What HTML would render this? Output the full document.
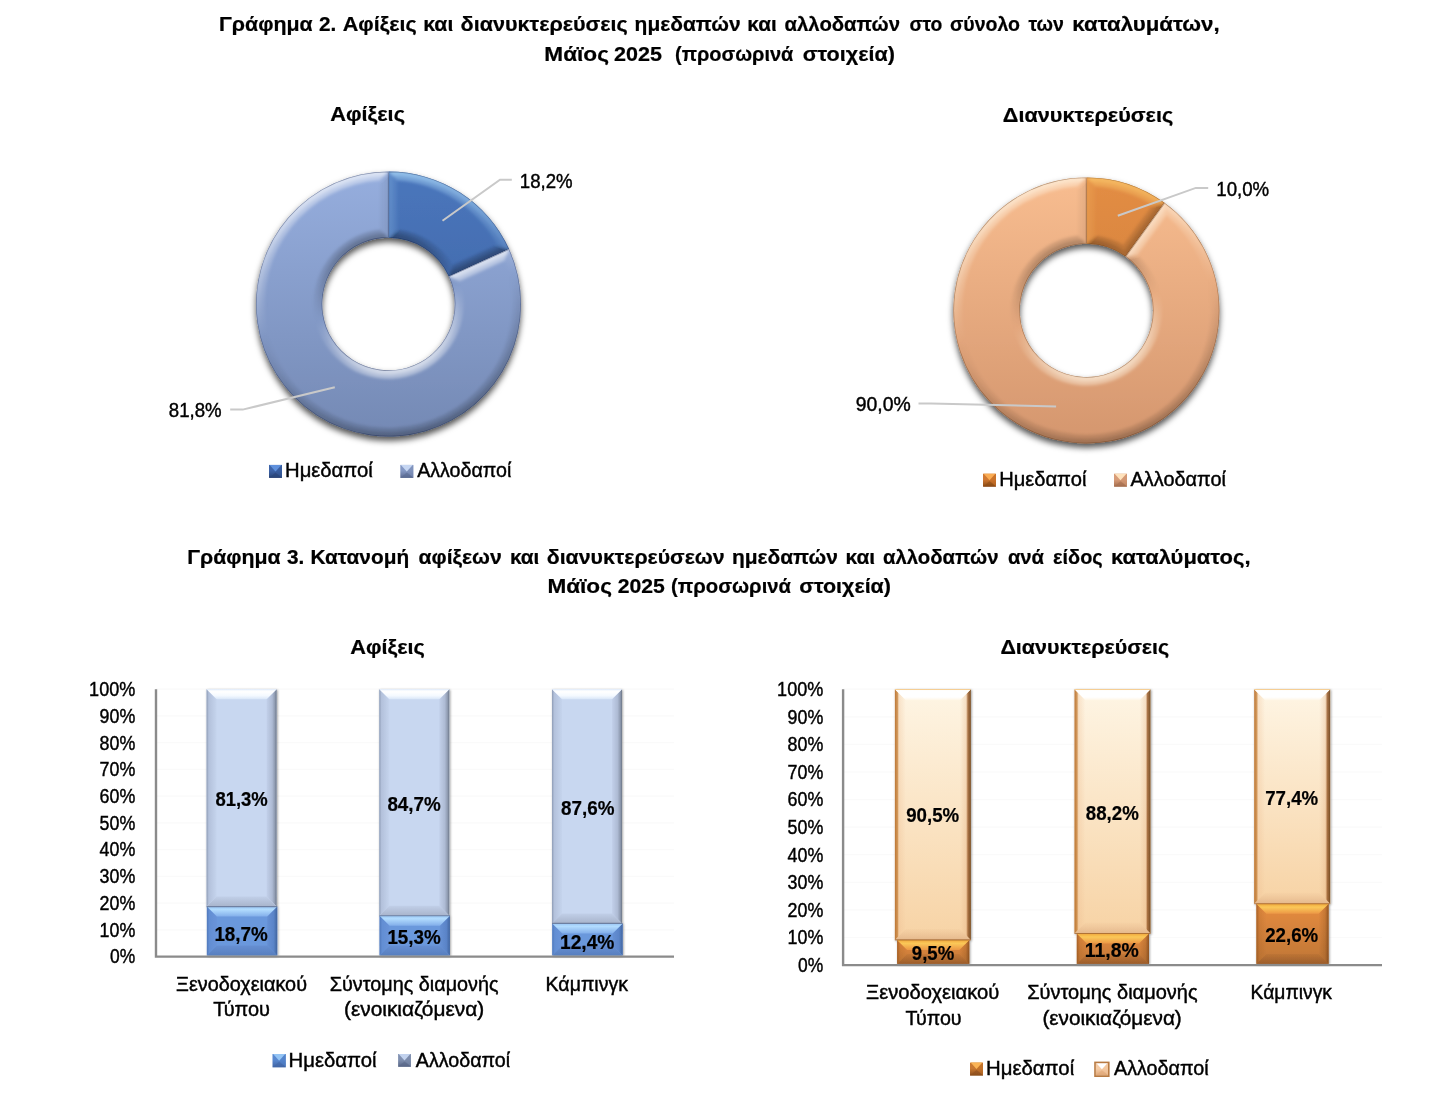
<!DOCTYPE html>
<html lang="el"><head><meta charset="utf-8"><title>Γραφήματα 2 και 3</title>
<style>
html,body{margin:0;padding:0;background:#fff;}
svg{display:block;}
text{font-family:"Liberation Sans", sans-serif;fill:#000;stroke:#000;stroke-width:.42px;}
text.b{stroke-width:.22px;}
</style></head><body>
<svg width="1446" height="1094" viewBox="0 0 1446 1094">
<defs>
<filter id="bl" x="-10%" y="-10%" width="120%" height="120%"><feGaussianBlur stdDeviation="1.5"/></filter>
<filter id="dsh" x="-10%" y="-10%" width="120%" height="125%"><feDropShadow dx="0" dy="4" stdDeviation="3.2" flood-color="#000" flood-opacity=".68"/></filter>
<filter id="msh" x="-20%" y="-20%" width="140%" height="140%"><feGaussianBlur stdDeviation="0.45"/></filter>
<filter id="bsh" x="-20%" y="-5%" width="140%" height="110%"><feDropShadow dx="0.8" dy="0.8" stdDeviation="1.1" flood-color="#000" flood-opacity=".38"/></filter>
<linearGradient id="dbd" gradientUnits="userSpaceOnUse" x1="0" y1="171.5" x2="0" y2="436.5"><stop offset="0" stop-color="#4A76BC"/><stop offset="1" stop-color="#3A5F9E"/></linearGradient>
<linearGradient id="dbl" gradientUnits="userSpaceOnUse" x1="0" y1="171.5" x2="0" y2="436.5"><stop offset="0" stop-color="#96AEDE"/><stop offset="1" stop-color="#7489B4"/></linearGradient>
<linearGradient id="db0o" gradientUnits="userSpaceOnUse" x1="356.7" y1="175.5" x2="420.3" y2="432.5"><stop offset="0" stop-color="#B4E2FF" stop-opacity="0.440"/><stop offset=".5" stop-color="#B4E2FF" stop-opacity="0"/><stop offset=".5" stop-color="#000" stop-opacity="0"/><stop offset="1" stop-color="#000" stop-opacity="0.176"/></linearGradient>
<linearGradient id="db0i" gradientUnits="userSpaceOnUse" x1="404.4" y1="368.3" x2="372.6" y2="239.7"><stop offset="0" stop-color="#B4E2FF" stop-opacity="0.440"/><stop offset=".5" stop-color="#B4E2FF" stop-opacity="0"/><stop offset=".5" stop-color="#000" stop-opacity="0"/><stop offset="1" stop-color="#000" stop-opacity="0.176"/></linearGradient>
<clipPath id="dbc0"><path d="M388.50,171.50A132.5,132.5 0 0 1 509.09,249.10L448.84,276.53A66.3,66.3 0 0 0 388.50,237.70Z"/></clipPath>
<linearGradient id="db1o" gradientUnits="userSpaceOnUse" x1="356.7" y1="175.5" x2="420.3" y2="432.5"><stop offset="0" stop-color="#fff" stop-opacity="0.413"/><stop offset=".5" stop-color="#fff" stop-opacity="0"/><stop offset=".5" stop-color="#000" stop-opacity="0"/><stop offset="1" stop-color="#000" stop-opacity="0.154"/></linearGradient>
<linearGradient id="db1i" gradientUnits="userSpaceOnUse" x1="404.4" y1="368.3" x2="372.6" y2="239.7"><stop offset="0" stop-color="#fff" stop-opacity="0.413"/><stop offset=".5" stop-color="#fff" stop-opacity="0"/><stop offset=".5" stop-color="#000" stop-opacity="0"/><stop offset="1" stop-color="#000" stop-opacity="0.154"/></linearGradient>
<clipPath id="dbc1"><path d="M509.09,249.10A132.5,132.5 0 1 1 388.50,171.50L388.50,237.70A66.3,66.3 0 1 0 448.84,276.53Z"/></clipPath>
<linearGradient id="mk1" x1="0" y1="0" x2="0" y2="1"><stop offset="0" stop-color="#3C64A8"/><stop offset=".45" stop-color="#3C64A8"/><stop offset="1" stop-color="#2A4476"/></linearGradient>
<linearGradient id="mk2" x1="0" y1="0" x2="0" y2="1"><stop offset="0" stop-color="#8498C4"/><stop offset=".45" stop-color="#8498C4"/><stop offset="1" stop-color="#5A6A92"/></linearGradient>
<linearGradient id="dod" gradientUnits="userSpaceOnUse" x1="0" y1="177.39999999999998" x2="0" y2="443.4"><stop offset="0" stop-color="#E38D44"/><stop offset="1" stop-color="#C67838"/></linearGradient>
<linearGradient id="dol" gradientUnits="userSpaceOnUse" x1="0" y1="177.39999999999998" x2="0" y2="443.4"><stop offset="0" stop-color="#F8BD90"/><stop offset="1" stop-color="#D4966E"/></linearGradient>
<linearGradient id="do0o" gradientUnits="userSpaceOnUse" x1="1054.5" y1="181.4" x2="1118.3" y2="439.4"><stop offset="0" stop-color="#FFD070" stop-opacity="0.413"/><stop offset=".5" stop-color="#FFD070" stop-opacity="0"/><stop offset=".5" stop-color="#000" stop-opacity="0"/><stop offset="1" stop-color="#000" stop-opacity="0.165"/></linearGradient>
<linearGradient id="do0i" gradientUnits="userSpaceOnUse" x1="1102.4" y1="375.0" x2="1070.4" y2="245.8"><stop offset="0" stop-color="#FFD070" stop-opacity="0.413"/><stop offset=".5" stop-color="#FFD070" stop-opacity="0"/><stop offset=".5" stop-color="#000" stop-opacity="0"/><stop offset="1" stop-color="#000" stop-opacity="0.165"/></linearGradient>
<clipPath id="doc0"><path d="M1086.40,177.40A133,133 0 0 1 1164.58,202.80L1125.55,256.52A66.6,66.6 0 0 0 1086.40,243.80Z"/></clipPath>
<linearGradient id="do1o" gradientUnits="userSpaceOnUse" x1="1054.5" y1="181.4" x2="1118.3" y2="439.4"><stop offset="0" stop-color="#FFF8E8" stop-opacity="0.413"/><stop offset=".5" stop-color="#FFF8E8" stop-opacity="0"/><stop offset=".5" stop-color="#000" stop-opacity="0"/><stop offset="1" stop-color="#000" stop-opacity="0.132"/></linearGradient>
<linearGradient id="do1i" gradientUnits="userSpaceOnUse" x1="1102.4" y1="375.0" x2="1070.4" y2="245.8"><stop offset="0" stop-color="#FFF8E8" stop-opacity="0.413"/><stop offset=".5" stop-color="#FFF8E8" stop-opacity="0"/><stop offset=".5" stop-color="#000" stop-opacity="0"/><stop offset="1" stop-color="#000" stop-opacity="0.132"/></linearGradient>
<clipPath id="doc1"><path d="M1164.58,202.80A133,133 0 1 1 1086.40,177.40L1086.40,243.80A66.6,66.6 0 1 0 1125.55,256.52Z"/></clipPath>
<linearGradient id="mk3" x1="0" y1="0" x2="0" y2="1"><stop offset="0" stop-color="#D07830"/><stop offset=".45" stop-color="#D07830"/><stop offset="1" stop-color="#8A4A16"/></linearGradient>
<linearGradient id="mk4" x1="0" y1="0" x2="0" y2="1"><stop offset="0" stop-color="#D89C78"/><stop offset=".45" stop-color="#D89C78"/><stop offset="1" stop-color="#A66E4E"/></linearGradient>
<linearGradient id="lbM" x1="0" y1="0" x2="0" y2="1"><stop offset="0" stop-color="#C8D7F0"/><stop offset="1" stop-color="#C8D7F0"/></linearGradient>
<linearGradient id="lbT" x1="0" y1="0" x2="0" y2="1"><stop offset="0" stop-color="#EAF2FC"/><stop offset="0.25" stop-color="#FFFFFF"/><stop offset="0.65" stop-color="#F4F9FF"/><stop offset="1" stop-color="#D9E6F8"/></linearGradient>
<linearGradient id="lbL" x1="0" y1="0" x2="1" y2="0"><stop offset="0" stop-color="#8E9CB5"/><stop offset="0.22" stop-color="#B3C1DB"/><stop offset="1" stop-color="#C5D4ED"/></linearGradient>
<linearGradient id="lbR" x1="0" y1="0" x2="1" y2="0"><stop offset="0" stop-color="#C2D0EA"/><stop offset="0.55" stop-color="#AEBBD4"/><stop offset="0.82" stop-color="#8F9BB1"/><stop offset="1" stop-color="#6C7687"/></linearGradient>
<linearGradient id="lbB" x1="0" y1="0" x2="0" y2="1"><stop offset="0" stop-color="#C1CFE8"/><stop offset="1" stop-color="#A8B4CB"/></linearGradient>
<linearGradient id="db2M" x1="0" y1="0" x2="0" y2="1"><stop offset="0" stop-color="#6B98DC"/><stop offset="1" stop-color="#6B98DC"/></linearGradient>
<linearGradient id="db2T" x1="0" y1="0" x2="0" y2="1"><stop offset="0" stop-color="#9AC6F5"/><stop offset="0.3" stop-color="#B2DCFE"/><stop offset="1" stop-color="#82AEEA"/></linearGradient>
<linearGradient id="db2L" x1="0" y1="0" x2="1" y2="0"><stop offset="0" stop-color="#5079BC"/><stop offset="0.25" stop-color="#638ED3"/><stop offset="1" stop-color="#6994D9"/></linearGradient>
<linearGradient id="db2R" x1="0" y1="0" x2="1" y2="0"><stop offset="0" stop-color="#6690D4"/><stop offset="0.65" stop-color="#5A84C8"/><stop offset="1" stop-color="#42659F"/></linearGradient>
<linearGradient id="db2B" x1="0" y1="0" x2="0" y2="1"><stop offset="0" stop-color="#668FD2"/><stop offset="1" stop-color="#587FBF"/></linearGradient>
<linearGradient id="mk5" x1="0" y1="0" x2="0" y2="1"><stop offset="0" stop-color="#5888D0"/><stop offset=".45" stop-color="#5888D0"/><stop offset="1" stop-color="#4266A6"/></linearGradient>
<linearGradient id="mk6" x1="0" y1="0" x2="0" y2="1"><stop offset="0" stop-color="#8090B0"/><stop offset=".45" stop-color="#8090B0"/><stop offset="1" stop-color="#586686"/></linearGradient>
<linearGradient id="loM" x1="0" y1="0" x2="0" y2="1"><stop offset="0" stop-color="#FEF5E4"/><stop offset="1" stop-color="#F7D3A5"/></linearGradient>
<linearGradient id="loT" x1="0" y1="0" x2="0" y2="1"><stop offset="0" stop-color="#F0B050"/><stop offset="0.12" stop-color="#FFFFFF"/><stop offset="0.72" stop-color="#FFFFFF"/><stop offset="1" stop-color="#FFF6E6"/></linearGradient>
<linearGradient id="loL" x1="0" y1="0" x2="1" y2="0"><stop offset="0" stop-color="#B8702E" stop-opacity="0.95"/><stop offset="0.24" stop-color="#C8843E" stop-opacity="0.8"/><stop offset="0.38" stop-color="#EBB88C" stop-opacity="0.3"/><stop offset="1" stop-color="#EBB88C" stop-opacity="0"/></linearGradient>
<linearGradient id="loR" x1="0" y1="0" x2="1" y2="0"><stop offset="0" stop-color="#E0A878" stop-opacity="0"/><stop offset="0.55" stop-color="#E0A878" stop-opacity="0.28"/><stop offset="0.72" stop-color="#9C6030" stop-opacity="0.85"/><stop offset="1" stop-color="#70451C" stop-opacity="0.95"/></linearGradient>
<linearGradient id="loB" x1="0" y1="0" x2="0" y2="1"><stop offset="0" stop-color="#D8A078" stop-opacity="0.05"/><stop offset="1" stop-color="#C89068" stop-opacity="0.4"/></linearGradient>
<linearGradient id="dorM" x1="0" y1="0" x2="0" y2="1"><stop offset="0" stop-color="#E68C40"/><stop offset="1" stop-color="#BF7636"/></linearGradient>
<linearGradient id="dorT" x1="0" y1="0" x2="0" y2="1"><stop offset="0" stop-color="#F0A83C"/><stop offset="0.35" stop-color="#FBC858"/><stop offset="1" stop-color="#EC9846"/></linearGradient>
<linearGradient id="dorL" x1="0" y1="0" x2="1" y2="0"><stop offset="0" stop-color="#96551E" stop-opacity="0.75"/><stop offset="0.3" stop-color="#96551E" stop-opacity="0.2"/><stop offset="1" stop-color="#96551E" stop-opacity="0"/></linearGradient>
<linearGradient id="dorR" x1="0" y1="0" x2="1" y2="0"><stop offset="0" stop-color="#78461A" stop-opacity="0"/><stop offset="0.65" stop-color="#78461A" stop-opacity="0.25"/><stop offset="1" stop-color="#6E3C14" stop-opacity="0.7"/></linearGradient>
<linearGradient id="dorB" x1="0" y1="0" x2="0" y2="1"><stop offset="0" stop-color="#64371A" stop-opacity="0.08"/><stop offset="1" stop-color="#64371A" stop-opacity="0.38"/></linearGradient>
<linearGradient id="mk7" x1="0" y1="0" x2="0" y2="1"><stop offset="0" stop-color="#C87830"/><stop offset=".45" stop-color="#C87830"/><stop offset="1" stop-color="#8C4E1E"/></linearGradient>
<linearGradient id="mk8" x1="0" y1="0" x2="0" y2="1"><stop offset="0" stop-color="#F6CCA6"/><stop offset=".45" stop-color="#F6CCA6"/><stop offset="1" stop-color="#E0A878"/></linearGradient>
</defs>
<rect width="1446" height="1094" fill="#fff"/>
<text y="31.1" font-size="20.2" font-weight="bold" class="b"><tspan x="219.0" textLength="93.7" lengthAdjust="spacingAndGlyphs">Γράφημα</tspan> <tspan x="319.0" textLength="17.3" lengthAdjust="spacingAndGlyphs">2.</tspan> <tspan x="342.7" textLength="74.0" lengthAdjust="spacingAndGlyphs">Αφίξεις</tspan> <tspan x="423.2" textLength="30.1" lengthAdjust="spacingAndGlyphs">και</tspan> <tspan x="460.6" textLength="167.2" lengthAdjust="spacingAndGlyphs">διανυκτερεύσεις</tspan> <tspan x="634.6" textLength="106.0" lengthAdjust="spacingAndGlyphs">ημεδαπών</tspan> <tspan x="747.3" textLength="29.4" lengthAdjust="spacingAndGlyphs">και</tspan> <tspan x="784.6" textLength="115.4" lengthAdjust="spacingAndGlyphs">αλλοδαπών</tspan> <tspan x="909.4" textLength="33.0" lengthAdjust="spacingAndGlyphs">στο</tspan> <tspan x="950.0" textLength="70.0" lengthAdjust="spacingAndGlyphs">σύνολο</tspan> <tspan x="1028.4" textLength="35.5" lengthAdjust="spacingAndGlyphs">των</tspan> <tspan x="1072.3" textLength="147.3" lengthAdjust="spacingAndGlyphs">καταλυμάτων,</tspan></text>
<text y="60.5" font-size="20.2" font-weight="bold" class="b"><tspan x="544.3" textLength="64.6" lengthAdjust="spacingAndGlyphs">Μάϊος</tspan> <tspan x="614.1" textLength="47.9" lengthAdjust="spacingAndGlyphs">2025</tspan> <tspan x="675.0" textLength="118.4" lengthAdjust="spacingAndGlyphs">(προσωρινά</tspan> <tspan x="802.8" textLength="92.1" lengthAdjust="spacingAndGlyphs">στοιχεία)</tspan></text>
<text y="564.1" font-size="20.2" font-weight="bold" class="b"><tspan x="187.2" textLength="93.5" lengthAdjust="spacingAndGlyphs">Γράφημα</tspan> <tspan x="287.0" textLength="17.3" lengthAdjust="spacingAndGlyphs">3.</tspan> <tspan x="310.5" textLength="98.6" lengthAdjust="spacingAndGlyphs">Κατανομή</tspan> <tspan x="418.5" textLength="83.2" lengthAdjust="spacingAndGlyphs">αφίξεων</tspan> <tspan x="509.9" textLength="29.5" lengthAdjust="spacingAndGlyphs">και</tspan> <tspan x="546.8" textLength="177.8" lengthAdjust="spacingAndGlyphs">διανυκτερεύσεων</tspan> <tspan x="731.9" textLength="106.0" lengthAdjust="spacingAndGlyphs">ημεδαπών</tspan> <tspan x="845.5" textLength="29.7" lengthAdjust="spacingAndGlyphs">και</tspan> <tspan x="883.0" textLength="115.6" lengthAdjust="spacingAndGlyphs">αλλοδαπών</tspan> <tspan x="1007.9" textLength="36.2" lengthAdjust="spacingAndGlyphs">ανά</tspan> <tspan x="1053.1" textLength="49.6" lengthAdjust="spacingAndGlyphs">είδος</tspan> <tspan x="1111.0" textLength="139.5" lengthAdjust="spacingAndGlyphs">καταλύματος,</tspan></text>
<text y="593.1" font-size="20.2" font-weight="bold" class="b"><tspan x="547.4" textLength="64.5" lengthAdjust="spacingAndGlyphs">Μάϊος</tspan> <tspan x="617.7" textLength="47.1" lengthAdjust="spacingAndGlyphs">2025</tspan> <tspan x="671.0" textLength="120.0" lengthAdjust="spacingAndGlyphs">(προσωρινά</tspan> <tspan x="799.3" textLength="91.7" lengthAdjust="spacingAndGlyphs">στοιχεία)</tspan></text>
<text x="330.2" y="121.1" font-size="20.2" textLength="74.8" lengthAdjust="spacingAndGlyphs" font-weight="bold" class="b">Αφίξεις</text>
<g filter="url(#dsh)">
<path d="M388.50,171.50A132.5,132.5 0 0 1 509.09,249.10L448.84,276.53A66.3,66.3 0 0 0 388.50,237.70Z" fill="url(#dbd)"/>
<g clip-path="url(#dbc0)"><g filter="url(#bl)">
<path d="M388.50,165.50A138.5,138.5 0 0 1 514.55,246.61L509.09,249.10L497.57,245.00A124.0,124.0 0 0 0 397.00,180.29L388.50,171.50Z" fill="url(#db0o)"/>
<path d="M388.50,243.70A60.3,60.3 0 0 1 443.38,279.01L448.84,276.53L452.61,265.47A74.8,74.8 0 0 0 397.00,229.68L388.50,237.70Z" fill="url(#db0i)"/>
<polygon points="381.25,165.69 388.50,165.50 388.50,171.50 397.00,180.29 397.00,229.68 388.50,237.70 388.50,243.70 382.20,244.03" fill="#B4E2FF" fill-opacity="0.106"/>
<polygon points="517.38,253.28 514.55,246.61 509.09,249.10 497.57,245.00 452.61,265.47 448.84,276.53 443.38,279.01 445.69,284.89" fill="#000" fill-opacity="0.173"/>
<path d="M388.50,165.50A138.5,138.5 0 0 1 514.55,246.61L509.09,249.10L503.40,247.02A128.25,128.25 0 0 0 392.75,175.82L388.50,171.50Z" fill="url(#db0o)"/>
<path d="M388.50,243.70A60.3,60.3 0 0 1 443.38,279.01L448.84,276.53L450.83,270.95A70.55,70.55 0 0 0 392.75,233.58L388.50,237.70Z" fill="url(#db0i)"/>
<polygon points="381.25,165.69 388.50,165.50 388.50,171.50 392.75,175.82 392.75,233.58 388.50,237.70 388.50,243.70 382.20,244.03" fill="#B4E2FF" fill-opacity="0.106"/>
<polygon points="517.38,253.28 514.55,246.61 509.09,249.10 503.40,247.02 450.83,270.95 448.84,276.53 443.38,279.01 445.69,284.89" fill="#000" fill-opacity="0.173"/>
</g>
<path d="M388.50,171.50A132.5,132.5 0 0 1 509.09,249.10L448.84,276.53A66.3,66.3 0 0 0 388.50,237.70Z" fill="none" stroke="#16244A" stroke-opacity=".4" stroke-width="1.3"/>
</g>
<path d="M509.09,249.10A132.5,132.5 0 1 1 388.50,171.50L388.50,237.70A66.3,66.3 0 1 0 448.84,276.53Z" fill="url(#dbl)"/>
<g clip-path="url(#dbc1)"><g filter="url(#bl)">
<path d="M514.55,246.61A138.5,138.5 0 1 1 388.50,165.50L388.50,171.50L380.00,180.29A124.0,124.0 0 1 0 504.61,260.47L509.09,249.10Z" fill="url(#db1o)"/>
<path d="M443.38,279.01A60.3,60.3 0 1 1 388.50,243.70L388.50,237.70L380.00,229.68A74.8,74.8 0 1 0 459.66,280.94L448.84,276.53Z" fill="url(#db1i)"/>
<polygon points="511.37,240.09 514.55,246.61 509.09,249.10 504.61,260.47 459.66,280.94 448.84,276.53 443.38,279.01 440.47,273.41" fill="#fff" fill-opacity="0.405"/>
<polygon points="395.75,165.69 388.50,165.50 388.50,171.50 380.00,180.29 380.00,229.68 388.50,237.70 388.50,243.70 394.80,244.03" fill="#000" fill-opacity="0.037"/>
<path d="M514.55,246.61A138.5,138.5 0 1 1 388.50,165.50L388.50,171.50L384.25,175.82A128.25,128.25 0 1 0 506.92,254.75L509.09,249.10Z" fill="url(#db1o)"/>
<path d="M443.38,279.01A60.3,60.3 0 1 1 388.50,243.70L388.50,237.70L384.25,233.58A70.55,70.55 0 1 0 454.35,278.69L448.84,276.53Z" fill="url(#db1i)"/>
<polygon points="511.37,240.09 514.55,246.61 509.09,249.10 506.92,254.75 454.35,278.69 448.84,276.53 443.38,279.01 440.47,273.41" fill="#fff" fill-opacity="0.405"/>
<polygon points="395.75,165.69 388.50,165.50 388.50,171.50 384.25,175.82 384.25,233.58 388.50,237.70 388.50,243.70 394.80,244.03" fill="#000" fill-opacity="0.037"/>
</g>
<path d="M509.09,249.10A132.5,132.5 0 1 1 388.50,171.50L388.50,237.70A66.3,66.3 0 1 0 448.84,276.53Z" fill="none" stroke="#16244A" stroke-opacity=".4" stroke-width="1.3"/>
</g>
</g>
<polyline points="442.5,220.8 500,179.8 511.8,179.8" fill="none" stroke="#C9C9C9" stroke-width="2"/>
<polyline points="334.8,387.2 242.7,409.6 230.2,409.6" fill="none" stroke="#C9C9C9" stroke-width="2"/>
<text x="519.8" y="188.1" font-size="20.3" textLength="52.8" lengthAdjust="spacingAndGlyphs">18,2%</text>
<text x="168.8" y="416.5" font-size="20.3" textLength="52.8" lengthAdjust="spacingAndGlyphs">81,8%</text>
<g filter="url(#msh)">
<rect x="269" y="464.9" width="13" height="13" fill="url(#mk1)"/>
<polygon points="282,464.9 282,477.9 275.5,471.4" fill="#36589A" fill-opacity=".6"/>
<polygon points="269,477.9 282,477.9 275.5,472.4" fill="#2A4476" fill-opacity=".55"/>
<polygon points="269.6,464.9 281.4,464.9 275.5,471.4" fill="#5E90DC"/>
</g>
<text x="285.0" y="477.3" font-size="19.7" textLength="87.8" lengthAdjust="spacingAndGlyphs">Ημεδαποί</text>
<g filter="url(#msh)">
<rect x="400.3" y="464.9" width="13" height="13" fill="url(#mk2)"/>
<polygon points="413.3,464.9 413.3,477.9 406.8,471.4" fill="#7C8EB8" fill-opacity=".6"/>
<polygon points="400.3,477.9 413.3,477.9 406.8,472.4" fill="#5A6A92" fill-opacity=".55"/>
<polygon points="400.90000000000003,464.9 412.7,464.9 406.8,471.4" fill="#C6D6F2"/>
</g>
<text x="417.2" y="477.3" font-size="19.7" textLength="94.2" lengthAdjust="spacingAndGlyphs">Αλλοδαποί</text>
<text x="1002.8" y="121.5" font-size="20.2" textLength="170.4" lengthAdjust="spacingAndGlyphs" font-weight="bold" class="b">Διανυκτερεύσεις</text>
<g filter="url(#dsh)">
<path d="M1086.40,177.40A133,133 0 0 1 1164.58,202.80L1125.55,256.52A66.6,66.6 0 0 0 1086.40,243.80Z" fill="url(#dod)"/>
<g clip-path="url(#doc0)"><g filter="url(#bl)">
<path d="M1086.40,171.40A139,139 0 0 1 1168.10,197.95L1164.58,202.80L1152.53,204.92A124.5,124.5 0 0 0 1094.90,186.19L1086.40,177.40Z" fill="url(#do0o)"/>
<path d="M1086.40,249.80A60.599999999999994,60.599999999999994 0 0 1 1122.02,261.37L1125.55,256.52L1123.38,245.04A75.1,75.1 0 0 0 1094.90,235.78L1086.40,243.80Z" fill="url(#do0i)"/>
<polygon points="1079.13,171.59 1086.40,171.40 1086.40,177.40 1094.90,186.19 1094.90,235.78 1086.40,243.80 1086.40,249.80 1080.07,250.13" fill="#FFD070" fill-opacity="0.099"/>
<polygon points="1173.88,202.38 1168.10,197.95 1164.58,202.80 1152.53,204.92 1123.38,245.04 1125.55,256.52 1122.02,261.37 1126.95,265.37" fill="#000" fill-opacity="0.126"/>
<path d="M1086.40,171.40A139,139 0 0 1 1168.10,197.95L1164.58,202.80L1158.60,203.80A128.75,128.75 0 0 0 1090.65,181.72L1086.40,177.40Z" fill="url(#do0o)"/>
<path d="M1086.40,249.80A60.599999999999994,60.599999999999994 0 0 1 1122.02,261.37L1125.55,256.52L1124.53,250.69A70.85,70.85 0 0 0 1090.65,239.68L1086.40,243.80Z" fill="url(#do0i)"/>
<polygon points="1079.13,171.59 1086.40,171.40 1086.40,177.40 1090.65,181.72 1090.65,239.68 1086.40,243.80 1086.40,249.80 1080.07,250.13" fill="#FFD070" fill-opacity="0.099"/>
<polygon points="1173.88,202.38 1168.10,197.95 1164.58,202.80 1158.60,203.80 1124.53,250.69 1125.55,256.52 1122.02,261.37 1126.95,265.37" fill="#000" fill-opacity="0.126"/>
</g>
<path d="M1086.40,177.40A133,133 0 0 1 1164.58,202.80L1125.55,256.52A66.6,66.6 0 0 0 1086.40,243.80Z" fill="none" stroke="#5A3010" stroke-opacity=".4" stroke-width="1.3"/>
</g>
<path d="M1164.58,202.80A133,133 0 1 1 1086.40,177.40L1086.40,243.80A66.6,66.6 0 1 0 1125.55,256.52Z" fill="url(#dol)"/>
<g clip-path="url(#doc1)"><g filter="url(#bl)">
<path d="M1168.10,197.95A139,139 0 1 1 1086.40,171.40L1086.40,177.40L1077.90,186.19A124.5,124.5 0 1 0 1166.29,214.91L1164.58,202.80Z" fill="url(#do1o)"/>
<path d="M1122.02,261.37A60.599999999999994,60.599999999999994 0 1 1 1086.40,249.80L1086.40,243.80L1077.90,235.78A75.1,75.1 0 1 0 1137.14,255.03L1125.55,256.52Z" fill="url(#do1i)"/>
<polygon points="1162.10,193.82 1168.10,197.95 1164.58,202.80 1166.29,214.91 1137.14,255.03 1125.55,256.52 1122.02,261.37 1116.70,257.92" fill="#FFF8E8" fill-opacity="0.315"/>
<polygon points="1093.67,171.59 1086.40,171.40 1086.40,177.40 1077.90,186.19 1077.90,235.78 1086.40,243.80 1086.40,249.80 1092.73,250.13" fill="#000" fill-opacity="0.032"/>
<path d="M1168.10,197.95A139,139 0 1 1 1086.40,171.40L1086.40,177.40L1082.15,181.72A128.75,128.75 0 1 0 1165.47,208.79L1164.58,202.80Z" fill="url(#do1o)"/>
<path d="M1122.02,261.37A60.599999999999994,60.599999999999994 0 1 1 1086.40,249.80L1086.40,243.80L1082.15,239.68A70.85,70.85 0 1 0 1131.41,255.68L1125.55,256.52Z" fill="url(#do1i)"/>
<polygon points="1162.10,193.82 1168.10,197.95 1164.58,202.80 1165.47,208.79 1131.41,255.68 1125.55,256.52 1122.02,261.37 1116.70,257.92" fill="#FFF8E8" fill-opacity="0.315"/>
<polygon points="1093.67,171.59 1086.40,171.40 1086.40,177.40 1082.15,181.72 1082.15,239.68 1086.40,243.80 1086.40,249.80 1092.73,250.13" fill="#000" fill-opacity="0.032"/>
</g>
<path d="M1164.58,202.80A133,133 0 1 1 1086.40,177.40L1086.40,243.80A66.6,66.6 0 1 0 1125.55,256.52Z" fill="none" stroke="#5A3010" stroke-opacity=".4" stroke-width="1.3"/>
</g>
</g>
<polyline points="1117.8,215.7 1195.8,187.9 1208.2,187.9" fill="none" stroke="#C9C9C9" stroke-width="2"/>
<polyline points="1056.1,406.4 931,403.6 918.5,403.6" fill="none" stroke="#C9C9C9" stroke-width="2"/>
<text x="1216.3" y="196.0" font-size="20.3" textLength="52.9" lengthAdjust="spacingAndGlyphs">10,0%</text>
<text x="855.8" y="410.7" font-size="20.3" textLength="55.0" lengthAdjust="spacingAndGlyphs">90,0%</text>
<g filter="url(#msh)">
<rect x="983" y="473.7" width="13" height="13" fill="url(#mk3)"/>
<polygon points="996,473.7 996,486.7 989.5,480.2" fill="#C87028" fill-opacity=".6"/>
<polygon points="983,486.7 996,486.7 989.5,481.2" fill="#8A4A16" fill-opacity=".55"/>
<polygon points="983.6,473.7 995.4,473.7 989.5,480.2" fill="#FAAC52"/>
</g>
<text x="999.2" y="485.8" font-size="19.7" textLength="87.2" lengthAdjust="spacingAndGlyphs">Ημεδαποί</text>
<g filter="url(#msh)">
<rect x="1114" y="473.7" width="13" height="13" fill="url(#mk4)"/>
<polygon points="1127,473.7 1127,486.7 1120.5,480.2" fill="#D09470" fill-opacity=".6"/>
<polygon points="1114,486.7 1127,486.7 1120.5,481.2" fill="#A66E4E" fill-opacity=".55"/>
<polygon points="1114.6,473.7 1126.4,473.7 1120.5,480.2" fill="#FFE2BC"/>
</g>
<text x="1130.6" y="485.8" font-size="19.7" textLength="95.4" lengthAdjust="spacingAndGlyphs">Αλλοδαποί</text>
<text x="350.2" y="654.2" font-size="20.2" textLength="74.6" lengthAdjust="spacingAndGlyphs" font-weight="bold" class="b">Αφίξεις</text>
<line x1="156" y1="929.9" x2="674" y2="929.9" stroke="#FAFAFA" stroke-width="1.2"/>
<line x1="156" y1="903.1" x2="674" y2="903.1" stroke="#FAFAFA" stroke-width="1.2"/>
<line x1="156" y1="876.4" x2="674" y2="876.4" stroke="#FAFAFA" stroke-width="1.2"/>
<line x1="156" y1="849.6" x2="674" y2="849.6" stroke="#FAFAFA" stroke-width="1.2"/>
<line x1="156" y1="822.9" x2="674" y2="822.9" stroke="#FAFAFA" stroke-width="1.2"/>
<line x1="156" y1="796.2" x2="674" y2="796.2" stroke="#FAFAFA" stroke-width="1.2"/>
<line x1="156" y1="769.4" x2="674" y2="769.4" stroke="#FAFAFA" stroke-width="1.2"/>
<line x1="156" y1="742.7" x2="674" y2="742.7" stroke="#FAFAFA" stroke-width="1.2"/>
<line x1="156" y1="715.9" x2="674" y2="715.9" stroke="#FAFAFA" stroke-width="1.2"/>
<line x1="156" y1="689.2" x2="674" y2="689.2" stroke="#FAFAFA" stroke-width="1.2"/>
<text x="135.3" y="963.4" font-size="20.3" textLength="25.2" lengthAdjust="spacingAndGlyphs" text-anchor="end">0%</text>
<text x="135.3" y="936.7" font-size="20.3" textLength="35.7" lengthAdjust="spacingAndGlyphs" text-anchor="end">10%</text>
<text x="135.3" y="909.9" font-size="20.3" textLength="35.7" lengthAdjust="spacingAndGlyphs" text-anchor="end">20%</text>
<text x="135.3" y="883.2" font-size="20.3" textLength="35.7" lengthAdjust="spacingAndGlyphs" text-anchor="end">30%</text>
<text x="135.3" y="856.4" font-size="20.3" textLength="35.7" lengthAdjust="spacingAndGlyphs" text-anchor="end">40%</text>
<text x="135.3" y="829.7" font-size="20.3" textLength="35.7" lengthAdjust="spacingAndGlyphs" text-anchor="end">50%</text>
<text x="135.3" y="803.0" font-size="20.3" textLength="35.7" lengthAdjust="spacingAndGlyphs" text-anchor="end">60%</text>
<text x="135.3" y="776.2" font-size="20.3" textLength="35.7" lengthAdjust="spacingAndGlyphs" text-anchor="end">70%</text>
<text x="135.3" y="749.5" font-size="20.3" textLength="35.7" lengthAdjust="spacingAndGlyphs" text-anchor="end">80%</text>
<text x="135.3" y="722.7" font-size="20.3" textLength="35.7" lengthAdjust="spacingAndGlyphs" text-anchor="end">90%</text>
<text x="135.3" y="696.0" font-size="20.3" textLength="46.2" lengthAdjust="spacingAndGlyphs" text-anchor="end">100%</text>
<g filter="url(#bsh)">
<rect x="206.6" y="689.2" width="70.0" height="217.4" fill="url(#lbM)"/>
<polygon points="206.6,689.2 216.6,699.2 216.6,896.6 206.6,906.6" fill="url(#lbL)"/>
<polygon points="276.6,689.2 266.6,699.2 266.6,896.6 276.6,906.6" fill="url(#lbR)"/>
<polygon points="206.6,906.6 276.6,906.6 266.6,896.6 216.6,896.6" fill="url(#lbB)"/>
<polygon points="206.6,689.2 276.6,689.2 266.6,699.2 216.6,699.2" fill="url(#lbT)"/>
<rect x="206.9" y="906.6" width="70.3" height="48.8" fill="url(#db2M)"/>
<polygon points="206.9,906.6 216.9,916.6 216.9,945.4 206.9,955.4" fill="url(#db2L)"/>
<polygon points="277.2,906.6 267.2,916.6 267.2,945.4 277.2,955.4" fill="url(#db2R)"/>
<polygon points="206.9,955.4 277.2,955.4 267.2,945.4 216.9,945.4" fill="url(#db2B)"/>
<polygon points="206.9,906.6 277.2,906.6 267.2,916.6 216.9,916.6" fill="url(#db2T)"/>
<rect x="379.3" y="689.2" width="70.0" height="226.5" fill="url(#lbM)"/>
<polygon points="379.3,689.2 389.3,699.2 389.3,905.7 379.3,915.7" fill="url(#lbL)"/>
<polygon points="449.3,689.2 439.3,699.2 439.3,905.7 449.3,915.7" fill="url(#lbR)"/>
<polygon points="379.3,915.7 449.3,915.7 439.3,905.7 389.3,905.7" fill="url(#lbB)"/>
<polygon points="379.3,689.2 449.3,689.2 439.3,699.2 389.3,699.2" fill="url(#lbT)"/>
<rect x="379.6" y="915.7" width="70.3" height="39.7" fill="url(#db2M)"/>
<polygon points="379.6,915.7 389.6,925.7 389.6,945.4 379.6,955.4" fill="url(#db2L)"/>
<polygon points="449.9,915.7 439.9,925.7 439.9,945.4 449.9,955.4" fill="url(#db2R)"/>
<polygon points="379.6,955.4 449.9,955.4 439.9,945.4 389.6,945.4" fill="url(#db2B)"/>
<polygon points="379.6,915.7 449.9,915.7 439.9,925.7 389.6,925.7" fill="url(#db2T)"/>
<rect x="552.0" y="689.2" width="70.0" height="234.2" fill="url(#lbM)"/>
<polygon points="552.0,689.2 562.0,699.2 562.0,913.4 552.0,923.4" fill="url(#lbL)"/>
<polygon points="622.0,689.2 612.0,699.2 612.0,913.4 622.0,923.4" fill="url(#lbR)"/>
<polygon points="552.0,923.4 622.0,923.4 612.0,913.4 562.0,913.4" fill="url(#lbB)"/>
<polygon points="552.0,689.2 622.0,689.2 612.0,699.2 562.0,699.2" fill="url(#lbT)"/>
<rect x="552.3" y="923.4" width="70.3" height="32.0" fill="url(#db2M)"/>
<polygon points="552.3,923.4 562.3,933.4 562.3,945.4 552.3,955.4" fill="url(#db2L)"/>
<polygon points="622.6,923.4 612.6,933.4 612.6,945.4 622.6,955.4" fill="url(#db2R)"/>
<polygon points="552.3,955.4 622.6,955.4 612.6,945.4 562.3,945.4" fill="url(#db2B)"/>
<polygon points="552.3,923.4 622.6,923.4 612.6,933.4 562.3,933.4" fill="url(#db2T)"/>
<line x1="206.6" y1="906.6" x2="277.2" y2="906.6" stroke="#5E6A84" stroke-opacity=".7" stroke-width="1.1"/>
<line x1="379.3" y1="915.7" x2="449.9" y2="915.7" stroke="#5E6A84" stroke-opacity=".7" stroke-width="1.1"/>
<line x1="552.0" y1="923.4" x2="622.6" y2="923.4" stroke="#5E6A84" stroke-opacity=".7" stroke-width="1.1"/>
</g>
<polyline points="156,689.2 156,956.6 674,956.6" fill="none" stroke="#8B8B8B" stroke-width="2.4"/>
<text x="215.4" y="806.1" font-size="20.5" textLength="52.4" lengthAdjust="spacingAndGlyphs" font-weight="bold" class="b">81,3%</text>
<text x="214.4" y="940.6" font-size="20.5" textLength="53.4" lengthAdjust="spacingAndGlyphs" font-weight="bold" class="b">18,7%</text>
<text x="387.4" y="810.5" font-size="20.5" textLength="53.4" lengthAdjust="spacingAndGlyphs" font-weight="bold" class="b">84,7%</text>
<text x="387.4" y="944.4" font-size="20.5" textLength="53.4" lengthAdjust="spacingAndGlyphs" font-weight="bold" class="b">15,3%</text>
<text x="561.0" y="814.8" font-size="20.5" textLength="53.4" lengthAdjust="spacingAndGlyphs" font-weight="bold" class="b">87,6%</text>
<text x="560.0" y="948.7" font-size="20.5" textLength="54.4" lengthAdjust="spacingAndGlyphs" font-weight="bold" class="b">12,4%</text>
<text x="176.0" y="990.8" font-size="19.7" textLength="131.0" lengthAdjust="spacingAndGlyphs">Ξενοδοχειακού</text>
<text x="213.2" y="1016.3" font-size="19.7" textLength="56.8" lengthAdjust="spacingAndGlyphs">Τύπου</text>
<text x="329.8" y="990.8" font-size="19.7" textLength="168.8" lengthAdjust="spacingAndGlyphs">Σύντομης διαμονής</text>
<text x="344.0" y="1016.3" font-size="19.7" textLength="140.2" lengthAdjust="spacingAndGlyphs">(ενοικιαζόμενα)</text>
<text x="545.6" y="990.8" font-size="19.7" textLength="82.4" lengthAdjust="spacingAndGlyphs">Κάμπινγκ</text>
<g filter="url(#msh)">
<rect x="272.5" y="1054" width="13.3" height="13.3" fill="url(#mk5)"/>
<polygon points="285.8,1054 285.8,1067.3 279.15,1060.65" fill="#5080C8" fill-opacity=".6"/>
<polygon points="272.5,1067.3 285.8,1067.3 279.15,1061.65" fill="#4266A6" fill-opacity=".55"/>
<polygon points="273.1,1054 285.2,1054 279.15,1060.65" fill="#94C4F4"/>
</g>
<text x="288.6" y="1066.6" font-size="19.7" textLength="88.0" lengthAdjust="spacingAndGlyphs">Ημεδαποί</text>
<g filter="url(#msh)">
<rect x="398.1" y="1054" width="12.8" height="12.8" fill="url(#mk6)"/>
<polygon points="410.90000000000003,1054 410.90000000000003,1066.8 404.5,1060.4" fill="#7888A8" fill-opacity=".6"/>
<polygon points="398.1,1066.8 410.90000000000003,1066.8 404.5,1061.4" fill="#586686" fill-opacity=".55"/>
<polygon points="398.70000000000005,1054 410.3,1054 404.5,1060.4" fill="#C2D2EE"/>
</g>
<text x="415.8" y="1066.6" font-size="19.7" textLength="94.4" lengthAdjust="spacingAndGlyphs">Αλλοδαποί</text>
<text x="1000.4" y="654.2" font-size="20.2" textLength="168.8" lengthAdjust="spacingAndGlyphs" font-weight="bold" class="b">Διανυκτερεύσεις</text>
<line x1="843.1" y1="937.5" x2="1382" y2="937.5" stroke="#FAFAFA" stroke-width="1.2"/>
<line x1="843.1" y1="909.9" x2="1382" y2="909.9" stroke="#FAFAFA" stroke-width="1.2"/>
<line x1="843.1" y1="882.3" x2="1382" y2="882.3" stroke="#FAFAFA" stroke-width="1.2"/>
<line x1="843.1" y1="854.7" x2="1382" y2="854.7" stroke="#FAFAFA" stroke-width="1.2"/>
<line x1="843.1" y1="827.2" x2="1382" y2="827.2" stroke="#FAFAFA" stroke-width="1.2"/>
<line x1="843.1" y1="799.6" x2="1382" y2="799.6" stroke="#FAFAFA" stroke-width="1.2"/>
<line x1="843.1" y1="772.0" x2="1382" y2="772.0" stroke="#FAFAFA" stroke-width="1.2"/>
<line x1="843.1" y1="744.4" x2="1382" y2="744.4" stroke="#FAFAFA" stroke-width="1.2"/>
<line x1="843.1" y1="716.8" x2="1382" y2="716.8" stroke="#FAFAFA" stroke-width="1.2"/>
<line x1="843.1" y1="689.2" x2="1382" y2="689.2" stroke="#FAFAFA" stroke-width="1.2"/>
<text x="823.3" y="971.9" font-size="20.3" textLength="25.2" lengthAdjust="spacingAndGlyphs" text-anchor="end">0%</text>
<text x="823.3" y="944.3" font-size="20.3" textLength="35.7" lengthAdjust="spacingAndGlyphs" text-anchor="end">10%</text>
<text x="823.3" y="916.7" font-size="20.3" textLength="35.7" lengthAdjust="spacingAndGlyphs" text-anchor="end">20%</text>
<text x="823.3" y="889.1" font-size="20.3" textLength="35.7" lengthAdjust="spacingAndGlyphs" text-anchor="end">30%</text>
<text x="823.3" y="861.5" font-size="20.3" textLength="35.7" lengthAdjust="spacingAndGlyphs" text-anchor="end">40%</text>
<text x="823.3" y="834.0" font-size="20.3" textLength="35.7" lengthAdjust="spacingAndGlyphs" text-anchor="end">50%</text>
<text x="823.3" y="806.4" font-size="20.3" textLength="35.7" lengthAdjust="spacingAndGlyphs" text-anchor="end">60%</text>
<text x="823.3" y="778.8" font-size="20.3" textLength="35.7" lengthAdjust="spacingAndGlyphs" text-anchor="end">70%</text>
<text x="823.3" y="751.2" font-size="20.3" textLength="35.7" lengthAdjust="spacingAndGlyphs" text-anchor="end">80%</text>
<text x="823.3" y="723.6" font-size="20.3" textLength="35.7" lengthAdjust="spacingAndGlyphs" text-anchor="end">90%</text>
<text x="823.3" y="696.0" font-size="20.3" textLength="46.2" lengthAdjust="spacingAndGlyphs" text-anchor="end">100%</text>
<g filter="url(#bsh)">
<rect x="894.9" y="689.2" width="76.0" height="250.7" fill="url(#loM)"/>
<polygon points="894.9,689.2 905.9,700.2 905.9,928.9 894.9,939.9" fill="url(#loL)"/>
<polygon points="970.9,689.2 959.9,700.2 959.9,928.9 970.9,939.9" fill="url(#loR)"/>
<polygon points="894.9,939.9 970.9,939.9 959.9,928.9 905.9,928.9" fill="url(#loB)"/>
<polygon points="894.9,689.2 970.9,689.2 959.9,700.2 905.9,700.2" fill="url(#loT)"/>
<rect x="897.1" y="939.9" width="72.2" height="24.0" fill="url(#dorM)"/>
<polygon points="897.1,939.9 907.1,949.9 907.1,953.9 897.1,963.9" fill="url(#dorL)"/>
<polygon points="969.3,939.9 959.3,949.9 959.3,953.9 969.3,963.9" fill="url(#dorR)"/>
<polygon points="897.1,963.9 969.3,963.9 959.3,953.9 907.1,953.9" fill="url(#dorB)"/>
<polygon points="897.1,939.9 969.3,939.9 959.3,949.9 907.1,949.9" fill="url(#dorT)"/>
<rect x="1074.5" y="689.2" width="76.0" height="244.3" fill="url(#loM)"/>
<polygon points="1074.5,689.2 1085.5,700.2 1085.5,922.5 1074.5,933.5" fill="url(#loL)"/>
<polygon points="1150.5,689.2 1139.5,700.2 1139.5,922.5 1150.5,933.5" fill="url(#loR)"/>
<polygon points="1074.5,933.5 1150.5,933.5 1139.5,922.5 1085.5,922.5" fill="url(#loB)"/>
<polygon points="1074.5,689.2 1150.5,689.2 1139.5,700.2 1085.5,700.2" fill="url(#loT)"/>
<rect x="1076.8" y="933.5" width="72.2" height="30.4" fill="url(#dorM)"/>
<polygon points="1076.8,933.5 1086.8,943.5 1086.8,953.9 1076.8,963.9" fill="url(#dorL)"/>
<polygon points="1149.0,933.5 1139.0,943.5 1139.0,953.9 1149.0,963.9" fill="url(#dorR)"/>
<polygon points="1076.8,963.9 1149.0,963.9 1139.0,953.9 1086.8,953.9" fill="url(#dorB)"/>
<polygon points="1076.8,933.5 1149.0,933.5 1139.0,943.5 1086.8,943.5" fill="url(#dorT)"/>
<rect x="1254.2" y="689.2" width="76.0" height="214.5" fill="url(#loM)"/>
<polygon points="1254.2,689.2 1265.2,700.2 1265.2,892.7 1254.2,903.7" fill="url(#loL)"/>
<polygon points="1330.2,689.2 1319.2,700.2 1319.2,892.7 1330.2,903.7" fill="url(#loR)"/>
<polygon points="1254.2,903.7 1330.2,903.7 1319.2,892.7 1265.2,892.7" fill="url(#loB)"/>
<polygon points="1254.2,689.2 1330.2,689.2 1319.2,700.2 1265.2,700.2" fill="url(#loT)"/>
<rect x="1256.4" y="903.7" width="72.2" height="60.2" fill="url(#dorM)"/>
<polygon points="1256.4,903.7 1266.4,913.7 1266.4,953.9 1256.4,963.9" fill="url(#dorL)"/>
<polygon points="1328.6,903.7 1318.6,913.7 1318.6,953.9 1328.6,963.9" fill="url(#dorR)"/>
<polygon points="1256.4,963.9 1328.6,963.9 1318.6,953.9 1266.4,953.9" fill="url(#dorB)"/>
<polygon points="1256.4,903.7 1328.6,903.7 1318.6,913.7 1266.4,913.7" fill="url(#dorT)"/>
<line x1="894.9" y1="939.9" x2="970.9" y2="939.9" stroke="#9A5E28" stroke-opacity=".7" stroke-width="1.1"/>
<line x1="1074.5" y1="933.5" x2="1150.5" y2="933.5" stroke="#9A5E28" stroke-opacity=".7" stroke-width="1.1"/>
<line x1="1254.2" y1="903.7" x2="1330.2" y2="903.7" stroke="#9A5E28" stroke-opacity=".7" stroke-width="1.1"/>
</g>
<polyline points="843.1,689.2 843.1,965.1 1382,965.1" fill="none" stroke="#8B8B8B" stroke-width="2.4"/>
<text x="906.2" y="822.4" font-size="20.5" textLength="53.0" lengthAdjust="spacingAndGlyphs" font-weight="bold" class="b">90,5%</text>
<text x="911.8" y="959.7" font-size="20.5" textLength="42.4" lengthAdjust="spacingAndGlyphs" font-weight="bold" class="b">9,5%</text>
<text x="1085.8" y="820.4" font-size="20.5" textLength="53.0" lengthAdjust="spacingAndGlyphs" font-weight="bold" class="b">88,2%</text>
<text x="1084.8" y="956.8" font-size="20.5" textLength="54.0" lengthAdjust="spacingAndGlyphs" font-weight="bold" class="b">11,8%</text>
<text x="1265.2" y="805.0" font-size="20.5" textLength="53.0" lengthAdjust="spacingAndGlyphs" font-weight="bold" class="b">77,4%</text>
<text x="1265.2" y="941.9" font-size="20.5" textLength="53.0" lengthAdjust="spacingAndGlyphs" font-weight="bold" class="b">22,6%</text>
<text x="866.0" y="999.0" font-size="19.7" textLength="133.4" lengthAdjust="spacingAndGlyphs">Ξενοδοχειακού</text>
<text x="905.6" y="1025.0" font-size="19.7" textLength="56.0" lengthAdjust="spacingAndGlyphs">Τύπου</text>
<text x="1027.2" y="999.0" font-size="19.7" textLength="170.4" lengthAdjust="spacingAndGlyphs">Σύντομης διαμονής</text>
<text x="1042.4" y="1025.0" font-size="19.7" textLength="139.4" lengthAdjust="spacingAndGlyphs">(ενοικιαζόμενα)</text>
<text x="1250.6" y="999.0" font-size="19.7" textLength="81.4" lengthAdjust="spacingAndGlyphs">Κάμπινγκ</text>
<g filter="url(#msh)">
<rect x="970" y="1062.6" width="13" height="13" fill="url(#mk7)"/>
<polygon points="983,1062.6 983,1075.6 976.5,1069.1" fill="#C07028" fill-opacity=".6"/>
<polygon points="970,1075.6 983,1075.6 976.5,1070.1" fill="#8C4E1E" fill-opacity=".55"/>
<polygon points="970.6,1062.6 982.4,1062.6 976.5,1069.1" fill="#FAB456"/>
</g>
<text x="986.0" y="1075.0" font-size="19.7" textLength="88.2" lengthAdjust="spacingAndGlyphs">Ημεδαποί</text>
<g filter="url(#msh)">
<rect x="1095.6" y="1063" width="12.6" height="12.6" fill="url(#mk8)"/>
<polygon points="1108.1999999999998,1063 1108.1999999999998,1075.6 1101.8999999999999,1069.3" fill="#F2C49C" fill-opacity=".6"/>
<polygon points="1095.6,1075.6 1108.1999999999998,1075.6 1101.8999999999999,1070.3" fill="#E0A878" fill-opacity=".55"/>
<polygon points="1096.1999999999998,1063 1107.6,1063 1101.8999999999999,1069.3" fill="#FFFFFF"/>
<rect x="1095.0" y="1062.4" width="13.8" height="13.8" fill="none" stroke="#B87A42" stroke-width="1.6"/>
</g>
<text x="1114.0" y="1075.0" font-size="19.7" textLength="94.6" lengthAdjust="spacingAndGlyphs">Αλλοδαποί</text>
</svg>
</body></html>
